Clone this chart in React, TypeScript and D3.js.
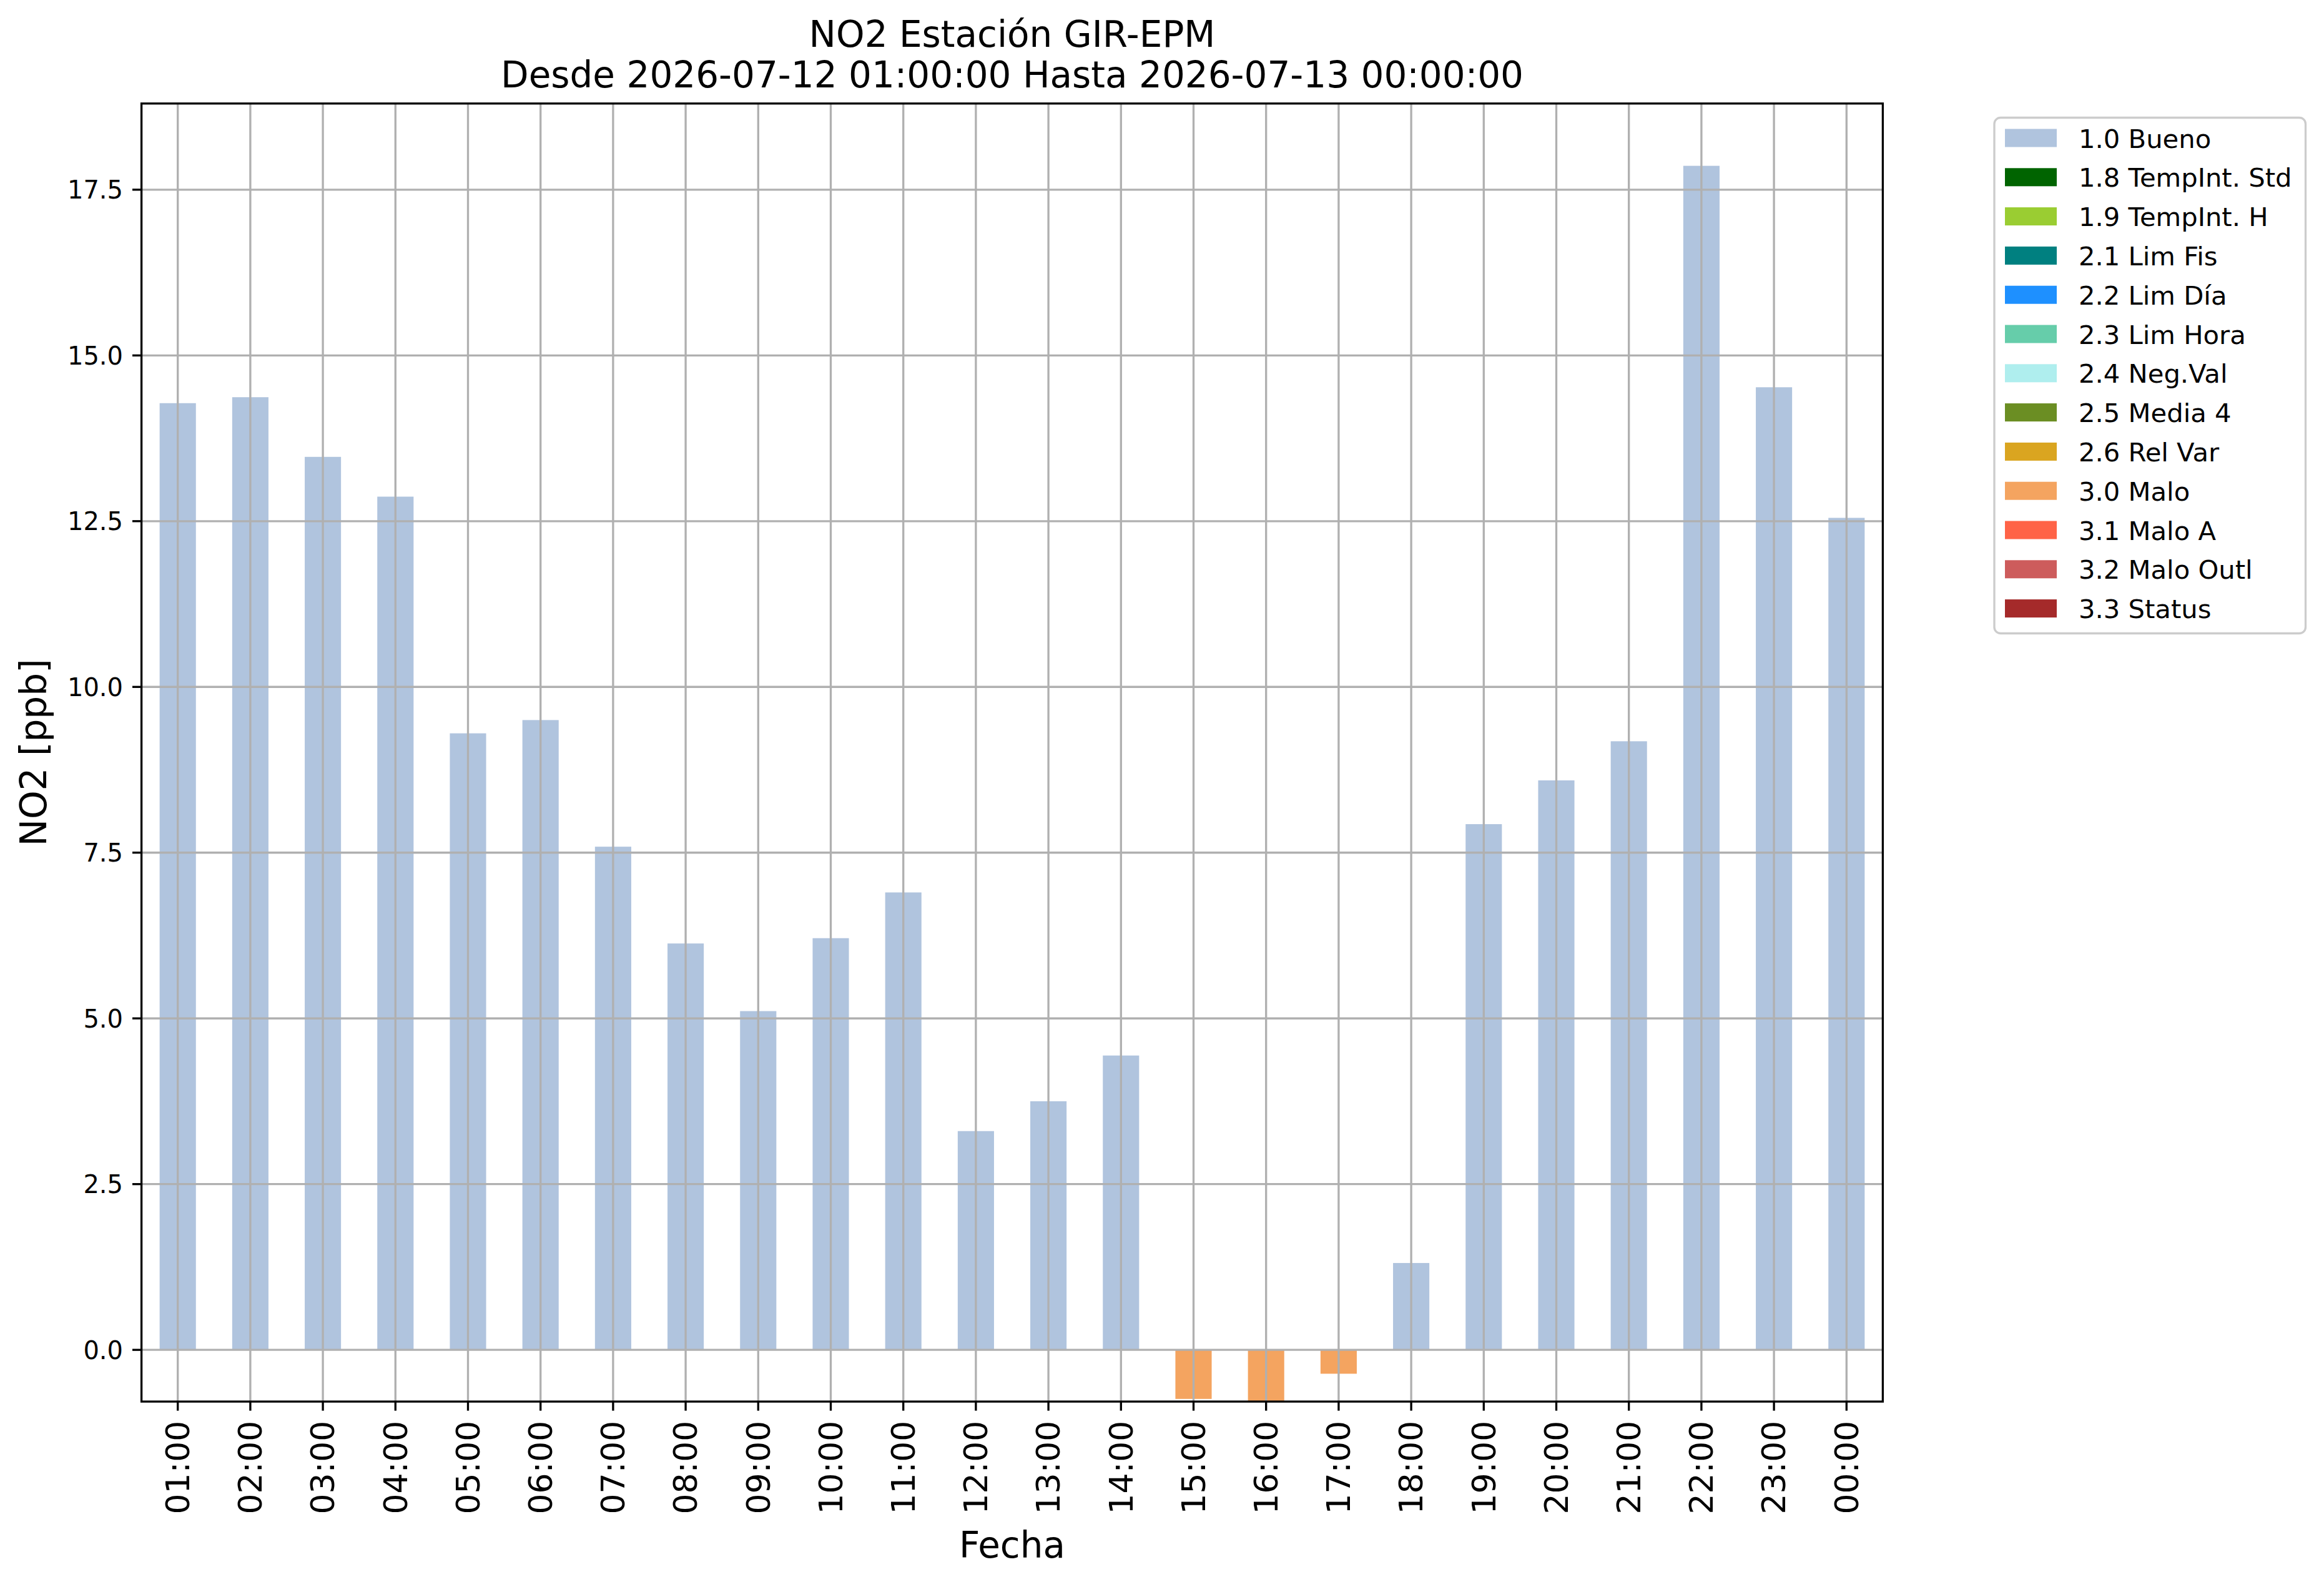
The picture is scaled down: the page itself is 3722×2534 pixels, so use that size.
import React, { useRef, useEffect } from "react";
import * as d3 from "d3";

// Horas del día (eje X)
const hours = [
  "01:00", "02:00", "03:00", "04:00", "05:00", "06:00", "07:00", "08:00",
  "09:00", "10:00", "11:00", "12:00", "13:00", "14:00", "15:00", "16:00",
  "17:00", "18:00", "19:00", "20:00", "21:00", "22:00", "23:00", "00:00",
];

// Concentración NO2 [ppb]
const values = [
  14.28, 14.37, 13.47, 12.87, 9.3, 9.5, 7.59, 6.13, 5.11, 6.21, 6.9, 3.3,
  3.75, 4.44, -0.74, -0.78, -0.36, 1.31, 7.93, 8.59, 9.18, 17.86, 14.52, 12.55,
];

// Bandera de calidad por hora
const flags = [
  "1.0", "1.0", "1.0", "1.0", "1.0", "1.0", "1.0", "1.0", "1.0", "1.0", "1.0", "1.0",
  "1.0", "1.0", "3.0", "3.0", "3.0", "1.0", "1.0", "1.0", "1.0", "1.0", "1.0", "1.0",
];

const legendCodes = [
  "1.0", "1.8", "1.9", "2.1", "2.2", "2.3", "2.4", "2.5", "2.6", "3.0", "3.1", "3.2", "3.3",
];
const legendLabels = [
  "1.0 Bueno", "1.8 TempInt. Std", "1.9 TempInt. H", "2.1 Lim Fis", "2.2 Lim Día",
  "2.3 Lim Hora", "2.4 Neg.Val", "2.5 Media 4", "2.6 Rel Var", "3.0 Malo",
  "3.1 Malo A", "3.2 Malo Outl", "3.3 Status",
];
const legendColors = [
  "#b0c4de", "#006400", "#9acd32", "#008080", "#1e90ff", "#66cdaa", "#afeeee",
  "#6b8e23", "#daa520", "#f4a460", "#ff6347", "#cd5c5c", "#a52a2a",
];

const yTicks = [0, 2.5, 5, 7.5, 10, 12.5, 15, 17.5];

const W = 3722;
const H = 2534;
const FONT = "DejaVu Sans";

const App: React.FC = () => {
  const svgRef = useRef<SVGSVGElement | null>(null);

  useEffect(() => {
    document.body.style.margin = "0";
    if (!svgRef.current) return;
    d3.select(svgRef.current).selectAll("*").remove();

    const left = 226.6;
    const right = 3015.4;
    const top = 165.8;
    const bottom = 2245;
    const lw = 3.33;

    const colorOf = d3.scaleOrdinal<string, string>().domain(legendCodes).range(legendColors);

    const x = d3.scaleBand<string>().domain(hours).range([left, right]).paddingInner(0.5).paddingOuter(0.25);
    const y = d3.scaleLinear().domain([-0.78, 18.8]).range([bottom, top]);

    const svg = d3.select(svgRef.current)
      .attr("width", W)
      .attr("height", H)
      .style("display", "block")
      .style("background", "white")
      .attr("font-family", FONT);

    svg.append("defs").append("clipPath").attr("id", "plot-clip")
      .append("rect")
      .attr("x", left).attr("y", top)
      .attr("width", right - left).attr("height", bottom - top);

    const plot = svg.append("g").attr("clip-path", "url(#plot-clip)");

    // Barras
    plot.selectAll("rect.bar")
      .data(values)
      .enter()
      .append("rect")
      .attr("class", "bar")
      .attr("x", (_, i) => x(hours[i])!)
      .attr("width", x.bandwidth())
      .attr("y", (d) => y(Math.max(0, d)))
      .attr("height", (d) => Math.abs(y(d) - y(0)))
      .attr("fill", (_, i) => colorOf(flags[i]));

    // Rejilla (encima de las barras)
    const center = (h: string) => x(h)! + x.bandwidth() / 2;
    plot.selectAll("line.vgrid")
      .data(hours)
      .enter()
      .append("line")
      .attr("x1", (d) => center(d)).attr("x2", (d) => center(d))
      .attr("y1", top).attr("y2", bottom)
      .attr("stroke", "#b0b0b0").attr("stroke-width", lw);
    plot.selectAll("line.hgrid")
      .data(yTicks)
      .enter()
      .append("line")
      .attr("x1", left).attr("x2", right)
      .attr("y1", (d) => y(d)).attr("y2", (d) => y(d))
      .attr("stroke", "#b0b0b0").attr("stroke-width", lw);

    // Marco
    svg.append("rect")
      .attr("x", left).attr("y", top)
      .attr("width", right - left).attr("height", bottom - top)
      .attr("fill", "none").attr("stroke", "black").attr("stroke-width", lw);

    // Eje Y
    const yAxis = svg.append("g");
    yTicks.forEach((t) => {
      yAxis.append("line")
        .attr("x1", left - 14.6).attr("x2", left)
        .attr("y1", y(t)).attr("y2", y(t))
        .attr("stroke", "black").attr("stroke-width", lw);
      yAxis.append("text")
        .attr("x", left - 14.6 - 15)
        .attr("y", y(t) + 14.5)
        .attr("text-anchor", "end")
        .attr("font-size", 40)
        .text(d3.format(".1f")(t));
    });

    // Eje X
    const xAxis = svg.append("g");
    hours.forEach((h) => {
      const cx = center(h);
      xAxis.append("line")
        .attr("x1", cx).attr("x2", cx)
        .attr("y1", bottom).attr("y2", bottom + 14.6)
        .attr("stroke", "black").attr("stroke-width", lw);
      xAxis.append("text")
        .attr("transform", `translate(${cx},${bottom + 14.6 + 16}) rotate(-90)`)
        .attr("text-anchor", "end")
        .attr("dy", "0.35em")
        .attr("font-size", 52)
        .text(h);
    });

    // Títulos
    const midX = (left + right) / 2;
    svg.append("text")
      .attr("x", midX).attr("y", 75)
      .attr("text-anchor", "middle").attr("font-size", 58)
      .text("NO2 Estación GIR-EPM");
    svg.append("text")
      .attr("x", midX).attr("y", 140)
      .attr("text-anchor", "middle").attr("font-size", 58)
      .text("Desde 2026-07-12 01:00:00 Hasta 2026-07-13 00:00:00");
    svg.append("text")
      .attr("x", midX).attr("y", 2495)
      .attr("text-anchor", "middle").attr("font-size", 58)
      .text("Fecha");
    svg.append("text")
      .attr("transform", `translate(74,${(top + bottom) / 2}) rotate(-90)`)
      .attr("text-anchor", "middle").attr("font-size", 58)
      .text("NO2 [ppb]");

    // Leyenda
    const legend = svg.append("g");
    legend.append("rect")
      .attr("x", 3194).attr("y", 188.5)
      .attr("width", 498.5).attr("height", 826)
      .attr("rx", 10)
      .attr("fill", "white").attr("fill-opacity", 0.8)
      .attr("stroke", "#cccccc").attr("stroke-width", lw);
    const rowY = d3.scaleLinear().domain([0, legendLabels.length - 1]).range([221, 974.6]);
    legendLabels.forEach((label, i) => {
      legend.append("rect")
        .attr("x", 3211).attr("y", rowY(i) - 14.5)
        .attr("width", 83).attr("height", 29)
        .attr("fill", legendColors[i]);
      legend.append("text")
        .attr("x", 3329).attr("y", rowY(i) + 15.5)
        .attr("font-size", 41.7)
        .text(label);
    });
  }, []);

  return <svg ref={svgRef}></svg>;
};

export default App;
